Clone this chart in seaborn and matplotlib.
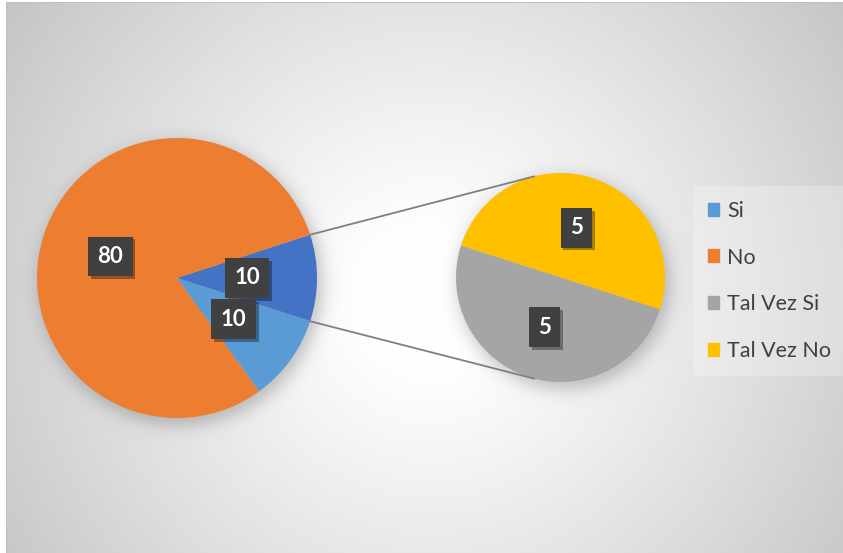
import numpy as np
import matplotlib
matplotlib.use("Agg")
import matplotlib.pyplot as plt
import matplotlib.patches as mpatches
import matplotlib.patheffects as pe
from matplotlib.patches import ConnectionPatch
import seaborn as sns

sns.set_style("white")
plt.rcParams["font.family"] = ["Lato", "DejaVu Sans"]

# Survey answers
categories = ["Si", "No", "Tal Vez Si", "Tal Vez No"]
values = [10, 80, 5, 5]
colors = ["#5B9BD5", "#ED7D31", "#A5A5A5", "#FFC000"]
other_color = "#4472C4"

W, H, DPI = 843, 553, 100
fig = plt.figure(figsize=(W / DPI, H / DPI), dpi=DPI)
fig.patch.set_facecolor("white")

# geometry in pixels
main_c, main_r = (177, 278), 140
sub_c, sub_r = (560.5, 277.5), 104.5
frame_x0, frame_y0 = 6, 2


def px_axes(cx, cy, r):
    return fig.add_axes([(cx - r) / W, 1 - (cy + r) / H, 2 * r / W, 2 * r / H])


# ---- background: radial gradient with soft pie shadows ----
yy, xx = np.mgrid[0:H, 0:W].astype(float)
rr = np.hypot(xx - 430, yy - 300) / 520
val = 1 - 0.23 * np.clip((rr - 0.12) / 0.88, 0, 1) ** 1.1
for (cx, cy), rad in [(main_c, main_r), (sub_c, sub_r)]:
    d = np.hypot(xx - cx - 3, yy - cy - 5)
    val *= 1 - 0.22 / (1 + np.exp((d - rad - 2) / 5.0))
img = np.dstack([val] * 3)
img[:, :frame_x0] = 1.0
img[:frame_y0, :] = 1.0
img[frame_y0, frame_x0:] = 0.75
img[frame_y0:, frame_x0] = 0.75
bg = fig.add_axes([0, 0, 1, 1])
bg.imshow(np.clip(img, 0, 1), extent=(0, W, H, 0), interpolation="bilinear")
bg.set_axis_off()

label_style = dict(color="white", fontsize=16, fontweight="bold")
box_style = dict(boxstyle="square,pad=0.42", fc="#404040", ec="none")


def style_labels(texts):
    for t in texts:
        t.set_bbox(box_style)
        t.get_bbox_patch().set_path_effects(
            [pe.SimplePatchShadow(offset=(2, -2), shadow_rgbFace="k", alpha=0.35),
             pe.Normal()])


# ---- main pie: Si, No and the grouped "Tal Vez" slice ----
other_val = values[2] + values[3]
main_vals = [other_val, values[1], values[0]]
main_cols = [other_color, colors[1], colors[0]]
main_total = sum(main_vals)
ax1 = px_axes(*main_c, main_r)
w1, _, t1 = ax1.pie(
    main_vals, colors=main_cols, startangle=-180 * other_val / main_total,
    counterclock=True, radius=1, pctdistance=0.5,
    autopct=lambda p: f"{p * main_total / 100:.0f}",
    wedgeprops=dict(linewidth=0), textprops=label_style)
ax1.set_xlim(-1, 1)
ax1.set_ylim(-1, 1)
ax1.set_aspect("equal")
ax1.set_axis_off()
style_labels(t1)

# ---- secondary pie: breakdown of "Tal Vez" ----
sub_vals = [values[3], values[2]]
sub_cols = [colors[3], colors[2]]
sub_total = sum(sub_vals)
ax2 = px_axes(*sub_c, sub_r)
w2, _, t2 = ax2.pie(
    sub_vals, colors=sub_cols, startangle=-17.8, counterclock=True,
    radius=1, pctdistance=0.5,
    autopct=lambda p: f"{p * sub_total / 100:.0f}",
    wedgeprops=dict(linewidth=0), textprops=label_style)
ax2.set_xlim(-1, 1)
ax2.set_ylim(-1, 1)
ax2.set_aspect("equal")
ax2.set_axis_off()
style_labels(t2)

# ---- connector lines between the pies ----
half = np.deg2rad(180 * other_val / main_total)
join = np.deg2rad(104.6)
for sgn in (1, -1):
    p1 = (np.cos(half), sgn * np.sin(half))
    p2 = (np.cos(join), sgn * np.sin(join))
    con = ConnectionPatch(xyA=p1, coordsA=ax1.transData, xyB=p2,
                          coordsB=ax2.transData, color="#808080", lw=1.3)
    fig.add_artist(con)

# ---- legend ----
handles = [mpatches.Patch(color=c, label=l) for c, l in zip(colors, categories)]
leg = fig.legend(handles=handles, loc="upper left",
                 bbox_to_anchor=(693 / W, 1 - 186 / H),
                 frameon=True, fancybox=False, fontsize=15.5, framealpha=0.25,
                 labelspacing=1.25, handlelength=0.55, handleheight=0.55,
                 handletextpad=0.35, borderpad=0.68, borderaxespad=0,
                 labelcolor="#404040")
leg.get_frame().set_facecolor("white")
leg.get_frame().set_edgecolor("none")

fig.savefig("out.png", dpi=DPI)
